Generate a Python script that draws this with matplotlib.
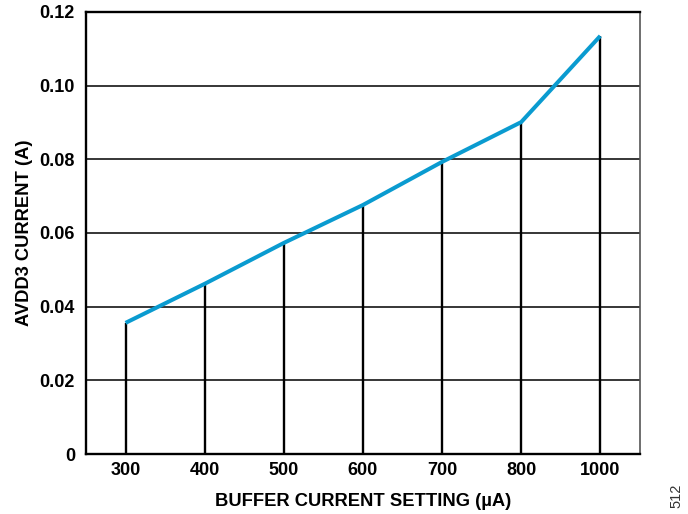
import matplotlib
matplotlib.use("Agg")
import matplotlib.pyplot as plt

# buffer current settings (categorical, evenly spaced)
settings = ["300", "400", "500", "600", "700", "800", "1000"]
avdd3_current = [0.0356, 0.0462, 0.0573, 0.0676, 0.0793, 0.0901, 0.1135]

plt.rcParams["font.family"] = ["Liberation Sans", "DejaVu Sans"]

fig = plt.figure(figsize=(6.88, 5.14), dpi=100)
ax = fig.add_axes([0.125, 0.1167, 0.805, 0.86])

x = list(range(len(settings)))
ax.vlines(x, 0, avdd3_current, color="black", linewidth=1.7, zorder=2)
ax.plot(x, avdd3_current, color="#0a9bd0", linewidth=2.9, zorder=3,
        solid_capstyle="butt")

ax.set_xlim(-0.5, len(settings) - 0.5)
ax.set_ylim(0, 0.12)
ax.set_yticks([0, 0.02, 0.04, 0.06, 0.08, 0.10, 0.12])
ax.set_yticklabels(["0", "0.02", "0.04", "0.06", "0.08", "0.10", "0.12"])
ax.set_xticks(x)
ax.set_xticklabels(settings)
ax.yaxis.grid(True, color="black", linewidth=1.1)
ax.set_axisbelow(True)
ax.tick_params(axis="y", length=0, pad=8, labelsize=13)
ax.tick_params(axis="x", length=0, pad=6, labelsize=13)
for lbl in ax.get_xticklabels() + ax.get_yticklabels():
    lbl.set_fontweight("bold")

for side in ["left", "bottom", "top"]:
    ax.spines[side].set_linewidth(1.7)
ax.spines["right"].set_linewidth(1.2)
ax.spines["right"].set_color("#555555")

ax.set_xlabel("BUFFER CURRENT SETTING (µA)", fontsize=13.2, fontweight="bold", labelpad=10)
ax.set_ylabel("AVDD3 CURRENT (A)", fontsize=13.2, fontweight="bold", labelpad=5)

fig.text(0.983, 0.035, "512", rotation=90, fontsize=10.5, color="#333333",
         ha="center", va="center")

fig.savefig("out.png", dpi=100)
